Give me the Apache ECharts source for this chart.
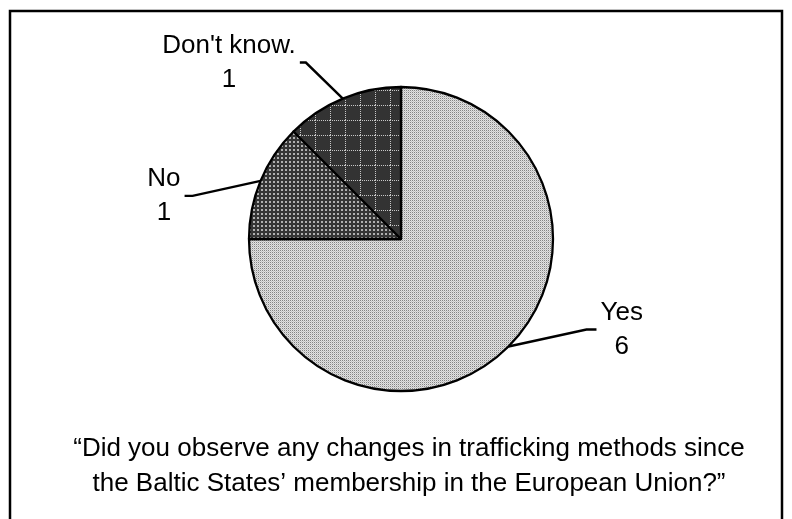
<!DOCTYPE html>
<html>
<head>
<meta charset="utf-8">
<script src="https://cdn.jsdelivr.net/npm/echarts@6/dist/echarts.min.js"></script>
<style>html,body{margin:0;padding:0;background:#fff;}#c{width:792px;height:519px;}</style>
</head>
<body>
<div id="c"></div>
<script>
// ---- data ----
const categories = ['Yes', 'No', "Don't know."];
const values = [6, 1, 1];
const questionLines = [
  '\u201CDid you observe any changes in trafficking methods since',
  'the Baltic States\u2019 membership in the European Union?\u201D'
];

// ---- layout (leader line end offset from slice edge point, horizontal tail) ----
const leaderOffsets = [[88, -17, 10], [-76, 15, 8], [-43, -36, 6]];
const labelGap = 4;
const FONT = '"Liberation Sans", Arial, sans-serif';

function makePattern(size, draw) {
  const c = document.createElement('canvas');
  c.width = size; c.height = size;
  const g = c.getContext('2d');
  draw(g, size);
  return c;
}
const patYes = makePattern(2, (g) => {
  g.fillStyle = '#e2e2e2'; g.fillRect(0, 0, 2, 2);
  g.fillStyle = '#848484'; g.fillRect(0, 0, 1, 1);
  g.fillStyle = '#c4c4c4'; g.fillRect(1, 1, 1, 1);
});
const patNo = makePattern(4, (g) => {
  g.fillStyle = '#353535'; g.fillRect(0, 0, 4, 4);
  g.fillStyle = '#b0b0b0'; g.fillRect(1, 1, 2, 2);
});
const patDk = makePattern(15, (g, s) => {
  g.fillStyle = '#333333'; g.fillRect(0, 0, s, s);
  g.fillStyle = '#c8c8c8';
  for (let i = 0; i < s; i += 2) { g.fillRect(i, 0, 1, 1); g.fillRect(0, i, 1, 1); }
});
const patterns = [patYes, patNo, patDk];

const chart = echarts.init(document.getElementById('c'), null, {renderer: 'canvas'});
chart.setOption({
  animation: false,
  backgroundColor: '#ffffff',
  title: {
    text: questionLines.join('\n'),
    left: 404,
    top: 426,
    textAlign: 'center',
    textStyle: {fontFamily: FONT, fontSize: 26, fontWeight: 'normal', color: '#000', lineHeight: 35}
  },
  graphic: [{
    type: 'rect',
    shape: {x: 10, y: 11, width: 772, height: 530},
    style: {fill: 'none', stroke: '#000', lineWidth: 2.5},
    silent: true
  }],
  series: [{
    type: 'pie',
    center: [401, 239],
    radius: 152,
    startAngle: 90,
    clockwise: true,
    avoidLabelOverlap: false,
    emphasis: {disabled: true},
    itemStyle: {borderColor: '#000', borderWidth: 2.3},
    label: {
      show: true,
      position: 'outside',
      formatter: '{b}\n{c}',
      fontFamily: FONT,
      fontSize: 26,
      lineHeight: 34,
      color: '#000'
    },
    labelLine: {show: true, length: 20, length2: 10, lineStyle: {color: '#000', width: 2.4}},
    labelLayout: function (p) {
      const o = leaderOffsets[p.dataIndex];
      if (!p.labelLinePoints || !p.labelLinePoints.length) return {};
      const edge = p.labelLinePoints[0];
      const end = [edge[0] + o[0], edge[1] + o[1]];
      const side = o[0] >= 0 ? 1 : -1;
      const elbow = [end[0] - side * o[2], end[1]];
      const w = p.labelRect.width;
      return {
        x: end[0] + side * (labelGap + w / 2),
        y: end[1],
        align: 'center',
        verticalAlign: 'middle',
        labelLinePoints: [edge, elbow, end]
      };
    },
    data: categories.map((name, i) => ({
      name: name,
      value: values[i],
      itemStyle: {color: {image: patterns[i], repeat: 'repeat'}}
    }))
  }]
});
</script>
</body>
</html>
